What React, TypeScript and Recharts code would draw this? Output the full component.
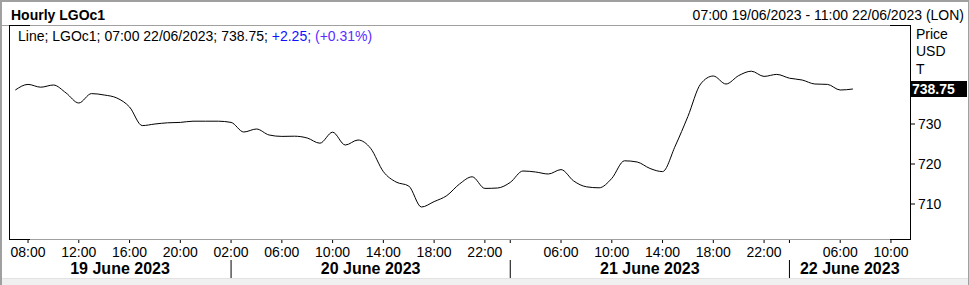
import { LineChart, Line, XAxis, YAxis, ReferenceLine } from 'recharts'

const FONT = '"Liberation Sans", Arial, sans-serif'

// trading sessions shown on the axis (hourly bars, 23:00 and 00:00 are not traded)
const sessionDays = ['19 June 2023', '20 June 2023', '21 June 2023', '22 June 2023']
const sessionFirstHour = [7, 1, 1, 1]
const sessionLastHour = [22, 22, 22, 11]

// hourly LGOc1 close, 07:00 19/06 .. 07:00 22/06
const prices = [
  738.5, 739.9, 739.2, 739.75, 737.75, 735.25, 737.6, 737.25, 736.5, 734.25,
  729.6, 730.0, 730.3, 730.4, 730.7, 730.7,
  730.7, 730.4, 728.0, 728.75, 727.25, 726.9, 726.95, 726.5, 725.2, 727.95,
  724.75, 726.0, 723.9, 718.1, 715.5, 714.5, 709.25, 710.6, 712.1, 715.0,
  716.8, 713.9,
  714.0, 715.4, 718.25, 718.0, 717.5, 718.6, 715.75, 714.3, 714.05, 716.4,
  720.8, 720.5, 718.9, 718.1, 724.5, 731.9, 740.0, 742.0, 740.0, 742.1,
  743.2, 741.9,
  742.4, 741.45, 741.0, 740.0, 739.9, 738.5, 738.75,
]

// bar indices carrying a time tick, and the ones drawn without a label
const hourTicks = [1, 5, 9, 13, 17, 21, 25, 29, 33, 37, 39, 43, 47, 51, 55, 59, 61, 65, 69]
const unlabeledTicks = [39, 61]
const yTicks = [710, 720, 730]

const pad = (n: number) => (n < 10 ? '0' + n : '' + n)

const bars: { day: number; time: string }[] = []
sessionDays.forEach((_, d) => {
  for (let h = sessionFirstHour[d]; h <= sessionLastHour[d]; h++) {
    bars.push({ day: d, time: `${pad(h)}:00` })
  }
})

const data = bars.map((b, i) => ({ i, time: b.time, price: prices[i] }))

const lastIndex = bars.length - 1
const xDomain = [-0.5, lastIndex + 0.5]

// day separators sit on the 02:00 bar of each new day
const dayStarts = sessionDays.map((_, d) => bars.findIndex((b) => b.day === d))
const separators = dayStarts.slice(1).map((s) => s + 1)
const dayLabelPos = sessionDays.map((_, d) => {
  const start = d === 0 ? xDomain[0] : separators[d - 1]
  const end = d === sessionDays.length - 1 ? xDomain[1] : separators[d]
  return (start + end) / 2
})

const allXTicks = [...hourTicks, ...separators.filter((s) => !hourTicks.includes(s)), ...dayLabelPos]
const near = (a: number, b: number) => Math.abs(a - b) < 1e-6

const lastPrice = prices[prices.length - 1]

function TimeTick(props: any) {
  const { x, y, payload } = props
  const v = payload.value as number
  const out: any[] = []
  if (hourTicks.some((t) => near(t, v))) {
    out.push(<line key="t" x1={x} x2={x} y1={y + 1} y2={y + 4} stroke="#000" />)
    if (!unlabeledTicks.some((t) => near(t, v))) {
      out.push(
        <text key="l" x={x} y={y + 17.5} textAnchor="middle" fontSize={14} fontFamily={FONT} fill="#000">
          {bars[Math.round(v)].time}
        </text>
      )
    }
  }
  if (separators.some((t) => near(t, v))) {
    out.push(<line key="s" x1={x} x2={x} y1={y + 21} y2={y + 39} stroke="#000" />)
  }
  const d = dayLabelPos.findIndex((p) => near(p, v))
  if (d >= 0) {
    out.push(
      <text key="d" x={x} y={y + 34.5} textAnchor="middle" fontSize={16} fontWeight="bold" fontFamily={FONT} fill="#000">
        {sessionDays[d]}
      </text>
    )
  }
  return <g>{out}</g>
}

function LastValueTag(props: any) {
  const vb = props.viewBox
  if (!vb) return null
  const x = vb.x + vb.width + 1
  const y = vb.y
  return (
    <g>
      <rect x={x} y={y - 8} width={56} height={16} fill="#000" />
      <text x={x + 1} y={y + 5} fontSize={14} fontWeight="bold" fontFamily={FONT} fill="#fff">
        {lastPrice.toFixed(2)}
      </text>
    </g>
  )
}

export default function App() {
  return (
    <div style={{ position: 'absolute', left: 0, top: 0, width: 969, height: 285, background: '#fff', fontFamily: FONT }}>
      <LineChart width={969} height={285} data={data} margin={{ top: 25, right: 0, bottom: 0, left: 9 }}>
        <XAxis
          dataKey="i"
          type="number"
          domain={xDomain}
          ticks={allXTicks}
          interval={0}
          allowDataOverflow
          height={46}
          axisLine={false}
          tickLine={false}
          tickSize={0}
          tickMargin={0}
          tick={<TimeTick />}
        />
        <YAxis
          orientation="right"
          width={59}
          domain={[701.25, 754.75]}
          ticks={yTicks}
          allowDataOverflow
          axisLine={false}
          tickLine={{ stroke: '#000' }}
          tickSize={5}
          tickMargin={3}
          tick={{ fill: '#000', fontSize: 14, fontFamily: FONT }}
        />
        <ReferenceLine y={lastPrice} stroke="none" ifOverflow="visible" label={<LastValueTag />} />
        <Line
          dataKey="price"
          type="monotone"
          stroke="#000"
          strokeWidth={1}
          dot={false}
          isAnimationActive={false}
        />
      </LineChart>
      <svg width={969} height={285} style={{ position: 'absolute', left: 0, top: 0, pointerEvents: 'none' }}>
        {/* outer window frame */}
        <rect x={0} y={0} width={2} height={285} fill="#a0a0a0" />
        <rect x={0} y={0} width={969} height={2} fill="#a0a0a0" />
        <rect x={968} y={0} width={1} height={285} fill="#a0a0a0" />
        <rect x={2} y={278} width={966} height={7} fill="#f0f0f0" />
        <line x1={2} x2={968} y1={278.5} y2={278.5} stroke="#e2e2e2" />
        {/* header */}
        <text x={11} y={20} fontSize={14} fontWeight="bold" fontFamily={FONT} fill="#000">Hourly LGOc1</text>
        <text x={964} y={20} textAnchor="end" fontSize={14} fontFamily={FONT} fill="#000">
          07:00 19/06/2023 - 11:00 22/06/2023 (LON)
        </text>
        <line x1={2} x2={890} y1={25.5} y2={25.5} stroke="#a0a0a0" />
        {/* plot frame */}
        <line x1={9} x2={890} y1={239.5} y2={239.5} stroke="#a0a0a0" />
        <line x1={9} x2={30} y1={25.5} y2={25.5} stroke="#000" />
        <line x1={9} x2={30} y1={239.5} y2={239.5} stroke="#000" />
        <line x1={890} x2={911} y1={25.5} y2={25.5} stroke="#000" />
        <line x1={890} x2={911} y1={239.5} y2={239.5} stroke="#000" />
        <line x1={9.5} x2={9.5} y1={25} y2={240} stroke="#000" />
        <line x1={910.5} x2={910.5} y1={25} y2={240} stroke="#000" />
        {/* legend */}
        <text x={18} y={41} fontSize={14} fontFamily={FONT} fill="#000">
          Line; LGOc1; 07:00 22/06/2023; {lastPrice.toFixed(2)};{' '}
          <tspan fill="#1010ff">+2.25;</tspan> <tspan fill="#5a2dff">(+0.31%)</tspan>
        </text>
        {/* axis unit caption */}
        <text x={916} y={38.5} fontSize={14} fontFamily={FONT} fill="#000">Price</text>
        <text x={916} y={56} fontSize={14} fontFamily={FONT} fill="#000">USD</text>
        <text x={916} y={73.5} fontSize={14} fontFamily={FONT} fill="#000">T</text>
      </svg>
    </div>
  )
}
